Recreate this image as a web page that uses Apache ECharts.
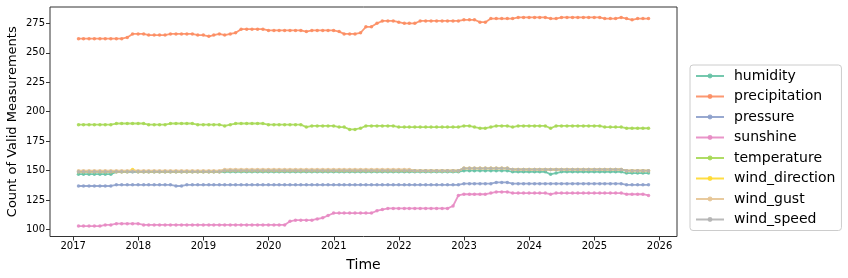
<!DOCTYPE html>
<html>
<head>
<meta charset="utf-8">
<script src="https://cdn.jsdelivr.net/npm/echarts@6/dist/echarts.min.js"></script>
<style>
html,body{margin:0;padding:0;background:#fff;}
#chart{width:848px;height:278px;}
</style>
</head>
<body>
<div id="chart"></div>
<script>
// Monthly periods Jan 2017 .. Oct 2025 (points placed at month end)
const months = [];
for (let y = 2017; y <= 2025; y++) {
  for (let m = 1; m <= 12; m++) {
    if (y === 2025 && m > 10) break;
    months.push(y + '-' + String(m).padStart(2, '0'));
  }
}

const seriesNames = ['humidity','precipitation','pressure','sunshine','temperature','wind_direction','wind_gust','wind_speed'];
const colors = ['#66c2a5','#fc8d62','#8da0cb','#e78ac3','#a6d854','#ffd92f','#e5c494','#b3b3b3'];

const yearTicks = [2017,2018,2019,2020,2021,2022,2023,2024,2025,2026];
const yTicks = [100,125,150,175,200,225,250,275];

const humidity = [
147,147,147,147,147,147,147,149,149,149,149,149,149,149,149,149,149,149,149,149,
149,149,149,149,149,149,149,149,149,149,149,149,149,149,149,149,149,149,149,149,
149,149,149,149,149,149,149,149,149,149,149,149,149,149,149,149,149,149,149,149,
149,149,149,149,149,149,149,149,149,149,149,150,150,150,150,150,150,150,150,150,
149,149,149,149,149,149,149,147,148,149,149,149,149,149,149,149,149,149,149,149,
149,148,148,148,148,148];

const precipitation = [
262,262,262,262,262,262,262,262,262,263,266,266,266,265,265,265,265,266,266,266,
266,266,265,265,264,265,266,265,266,267,270,270,270,270,270,269,269,269,269,269,
269,269,268,269,269,269,269,269,268,266,266,266,267,272,272,275,277,277,277,276,
275,275,275,277,277,277,277,277,277,277,277,278,278,278,276,276,279,279,279,279,
279,280,280,280,280,280,280,279,279,280,280,280,280,280,280,280,280,279,279,279,
280,279,278,279,279,279];

const pressure = [
137,137,137,137,137,137,137,138,138,138,138,138,138,138,138,138,138,138,137,137,
138,138,138,138,138,138,138,138,138,138,138,138,138,138,138,138,138,138,138,138,
138,138,138,138,138,138,138,138,138,138,138,138,138,138,138,138,138,138,138,138,
138,138,138,138,138,138,138,138,138,138,138,139,139,139,139,139,139,140,140,140,
139,139,139,139,139,139,139,139,139,139,139,139,139,139,139,139,139,139,139,139,
139,138,138,138,138,138];

const sunshine = [
103,103,103,103,103,104,104,105,105,105,105,105,104,104,104,104,104,104,104,104,
104,104,104,104,104,104,104,104,104,104,104,104,104,104,104,104,104,104,104,107,
108,108,108,108,109,110,112,114,114,114,114,114,114,114,114,116,117,118,118,118,
118,118,118,118,118,118,118,118,118,120,129,130,130,130,130,130,131,132,132,132,
131,131,131,131,131,131,131,130,131,131,131,131,131,131,131,131,131,131,131,131,
131,130,130,130,130,129];

const temperature = [
189,189,189,189,189,189,189,190,190,190,190,190,190,189,189,189,189,190,190,190,
190,190,189,189,189,189,189,188,189,190,190,190,190,190,190,189,189,189,189,189,
189,189,187,188,188,188,188,188,187,187,185,185,186,188,188,188,188,188,188,187,
187,187,187,187,187,187,187,187,187,187,187,188,188,187,186,186,187,188,188,188,
187,188,188,188,188,188,188,186,188,188,188,188,188,188,188,188,188,187,187,187,
187,186,186,186,186,186];

const wind_direction = [
149,149,149,149,149,149,149,149,149,149,151,149,149,149,149,149,149,149,149,149,
149,149,149,149,149,149,149,150,150,150,150,150,150,150,150,150,150,150,150,150,
150,150,150,150,150,150,150,150,150,150,150,150,150,150,150,150,150,150,150,150,
150,150,150,150,150,150,150,150,150,150,150,152,152,152,152,152,152,152,152,152,
151,151,151,151,151,151,151,151,151,151,151,151,151,151,151,151,151,151,151,151,
151,150,150,150,150,150];

const wind_gust = [
150,150,150,150,150,150,150,150,150,150,150,150,150,150,150,150,150,150,150,150,
150,150,150,150,150,150,150,151,151,151,151,151,151,151,151,151,151,151,151,151,
151,151,151,151,151,151,151,151,151,151,151,151,151,151,151,151,151,151,151,151,
151,151,150,150,150,150,150,150,150,150,150,152,152,152,152,152,152,152,152,152,
151,151,151,151,151,151,151,151,151,151,151,151,151,151,151,151,151,151,151,151,
151,150,150,150,150,150];

const wind_speed = [
149,149,149,149,149,149,149,149,149,149,149,149,149,149,149,149,149,149,149,149,
149,149,149,149,149,149,149,150,150,150,150,150,150,150,150,150,150,150,150,150,
150,150,150,150,150,150,150,150,150,150,150,150,150,150,150,150,150,150,150,150,
150,150,150,150,150,150,150,150,150,150,150,152,152,152,152,152,152,152,152,152,
151,151,151,151,151,151,151,151,151,151,151,151,151,151,151,151,151,151,151,151,
151,150,150,150,150,150];

const allValues = [humidity, precipitation, pressure, sunshine, temperature, wind_direction, wind_gust, wind_speed];

// month label -> fractional year at month end (like a date axis)
function monthEndYear(s) {
  const parts = s.split('-').map(Number);
  const y = parts[0], m = parts[1];
  const t = Date.UTC(y, m, 0);
  const y0 = Date.UTC(y, 0, 1), y1 = Date.UTC(y + 1, 0, 1);
  return y + (t - y0) / (y1 - y0);
}
const xs = months.map(monthEndYear);
const xr = xs[xs.length - 1] - xs[0];
const xMin = xs[0] - 0.05 * xr, xMax = xs[xs.length - 1] + 0.05 * xr;
let vmin = Infinity, vmax = -Infinity;
allValues.forEach(a => a.forEach(v => { vmin = Math.min(vmin, v); vmax = Math.max(vmax, v); }));
const yr = vmax - vmin;
const yMin = vmin - 0.05 * yr, yMax = vmax + 0.05 * yr;

const FONT = 'DejaVu Sans';
const chart = echarts.init(document.getElementById('chart'), null, {renderer: 'canvas'});
chart.setOption({
  animation: false,
  backgroundColor: '#fff',
  textStyle: {fontFamily: FONT},
  grid: {left: 50, top: 7, width: 627, height: 229.5, containLabel: false, outerBoundsMode: 'none',
         show: true, borderColor: '#333', borderWidth: 1, backgroundColor: 'transparent'},
  xAxis: {
    type: 'value', min: xMin, max: xMax,
    name: 'Time', nameLocation: 'middle', nameGap: 22, nameMoveOverlap: false,
    nameTextStyle: {fontSize: 14, color: '#000', fontFamily: FONT},
    axisLine: {show: false},
    axisTick: {show: true, customValues: yearTicks, length: 4, lineStyle: {color: '#333'}},
    axisLabel: {customValues: yearTicks, fontSize: 10, color: '#000', margin: 5, fontFamily: FONT, formatter: v => String(v)},
    splitLine: {show: false}
  },
  yAxis: {
    type: 'value', min: yMin, max: yMax,
    name: 'Count of Valid Measurements', nameLocation: 'middle', nameGap: 31, nameMoveOverlap: false,
    nameTextStyle: {fontSize: 13, color: '#000', fontFamily: FONT},
    axisLine: {show: false},
    axisTick: {show: true, customValues: yTicks, length: 4, lineStyle: {color: '#333'}},
    axisLabel: {customValues: yTicks, fontSize: 10, color: '#000', margin: 5, fontFamily: FONT},
    splitLine: {show: false}
  },
  legend: {
    orient: 'vertical', left: 690, top: 65,
    data: seriesNames,
    itemWidth: 28, itemHeight: 6, itemGap: 6.5,
    padding: [4, 6, 4, 5],
    borderColor: '#cccccc', borderWidth: 1, borderRadius: 3, backgroundColor: '#fff',
    textStyle: {fontSize: 14, color: '#000', fontFamily: FONT, padding: [0, 0, 0, 5]}
  },
  series: seriesNames.map((n, k) => ({
    name: n, type: 'line',
    data: xs.map((x, i) => [x, allValues[k][i]]),
    symbol: 'circle', symbolSize: 3.5, showSymbol: true,
    color: colors[k],
    lineStyle: {width: 1.8, color: colors[k], opacity: 0.9},
    itemStyle: {color: colors[k], opacity: 0.9},
    emphasis: {disabled: true}
  }))
});
</script>
</body>
</html>
